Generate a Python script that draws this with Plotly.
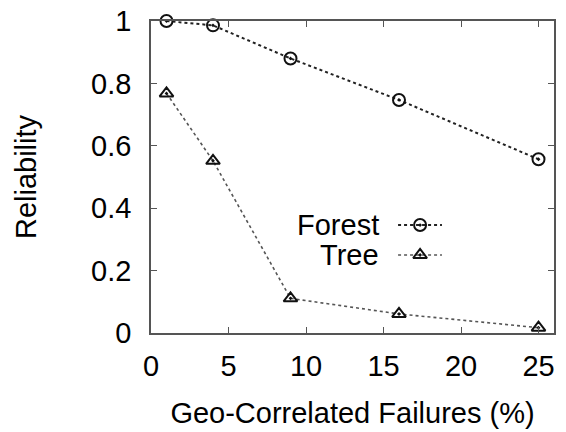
import plotly.graph_objects as go

# Data
failures = [1, 4, 9, 16, 25]
forest = [1.0, 0.986, 0.880, 0.747, 0.557]
tree = [0.768, 0.552, 0.111, 0.061, 0.017]
series_names = ["Forest", "Tree"]
x_ticks = [0, 5, 10, 15, 20, 25]
y_ticks = [0, 0.2, 0.4, 0.6, 0.8, 1]
y_tick_labels = ["0", "0.2", "0.4", "0.6", "0.8", "1"]

# Manual legend key placement (data units)
legend_x = [15.94, 17.36, 18.77]
legend_y = [0.346, 0.25]
legend_text_x = 14.85

FONT = "Liberation Sans, Arial, sans-serif"
FS = 29

fig = go.Figure()

fig.add_trace(go.Scatter(
    x=failures, y=forest, mode="lines+markers", name=series_names[0],
    line=dict(color="#222222", width=2, dash="dot"),
    marker=dict(symbol="circle-open-dot", size=12, color="#111111", line=dict(width=2, color="#111111")),
    showlegend=False, cliponaxis=False,
))
fig.add_trace(go.Scatter(
    x=failures, y=tree, mode="lines+markers", name=series_names[1],
    line=dict(color="#555555", width=1.6, dash="dot"),
    marker=dict(symbol="triangle-up-open-dot", size=12, color="#111111", line=dict(width=2, color="#111111")),
    showlegend=False, cliponaxis=False,
))

# Legend keys
fig.add_trace(go.Scatter(
    x=[legend_x[0], legend_x[2]], y=[legend_y[0]] * 2, mode="lines",
    line=dict(color="#222222", width=2, dash="dot"), showlegend=False, hoverinfo="skip",
))
fig.add_trace(go.Scatter(
    x=[legend_x[1]], y=[legend_y[0]], mode="markers",
    marker=dict(symbol="circle-open-dot", size=12, color="#111111", line=dict(width=2, color="#111111")),
    showlegend=False, hoverinfo="skip",
))
fig.add_trace(go.Scatter(
    x=[legend_x[0], legend_x[2]], y=[legend_y[1]] * 2, mode="lines",
    line=dict(color="#555555", width=1.6, dash="dot"), showlegend=False, hoverinfo="skip",
))
fig.add_trace(go.Scatter(
    x=[legend_x[1]], y=[legend_y[1]], mode="markers",
    marker=dict(symbol="triangle-up-open-dot", size=12, color="#111111", line=dict(width=2, color="#111111")),
    showlegend=False, hoverinfo="skip",
))
for name, ly in zip(series_names, legend_y):
    fig.add_annotation(x=legend_text_x, y=ly, xref="x", yref="y", text=name, showarrow=False,
                       xanchor="right", yanchor="middle", font=dict(size=FS, color="black", family=FONT))

axis_common = dict(
    showgrid=False, zeroline=False, showline=True, linecolor="#555555", linewidth=1.5,
    mirror="ticks", ticks="inside", ticklen=6, tickcolor="#555555", tickwidth=1,
    tickfont=dict(size=FS, color="black", family=FONT), automargin=False,
)

fig.update_layout(
    width=566, height=432,
    margin=dict(l=151, r=12, t=21, b=99),
    paper_bgcolor="white", plot_bgcolor="white",
    font=dict(family=FONT, color="black"),
    xaxis=dict(range=[0, 26], tickvals=x_ticks, ticktext=[str(v) for v in x_ticks],
               ticklabelstandoff=6,
               title=dict(text="Geo-Correlated Failures (%)", font=dict(size=FS, family=FONT), standoff=22),
               **axis_common),
    yaxis=dict(range=[0, 1], tickvals=y_ticks, ticktext=y_tick_labels,
               ticklabelstandoff=12,
               title=dict(text="Reliability", font=dict(size=FS, family=FONT), standoff=46),
               **axis_common),
)

fig.write_html("out.html")
